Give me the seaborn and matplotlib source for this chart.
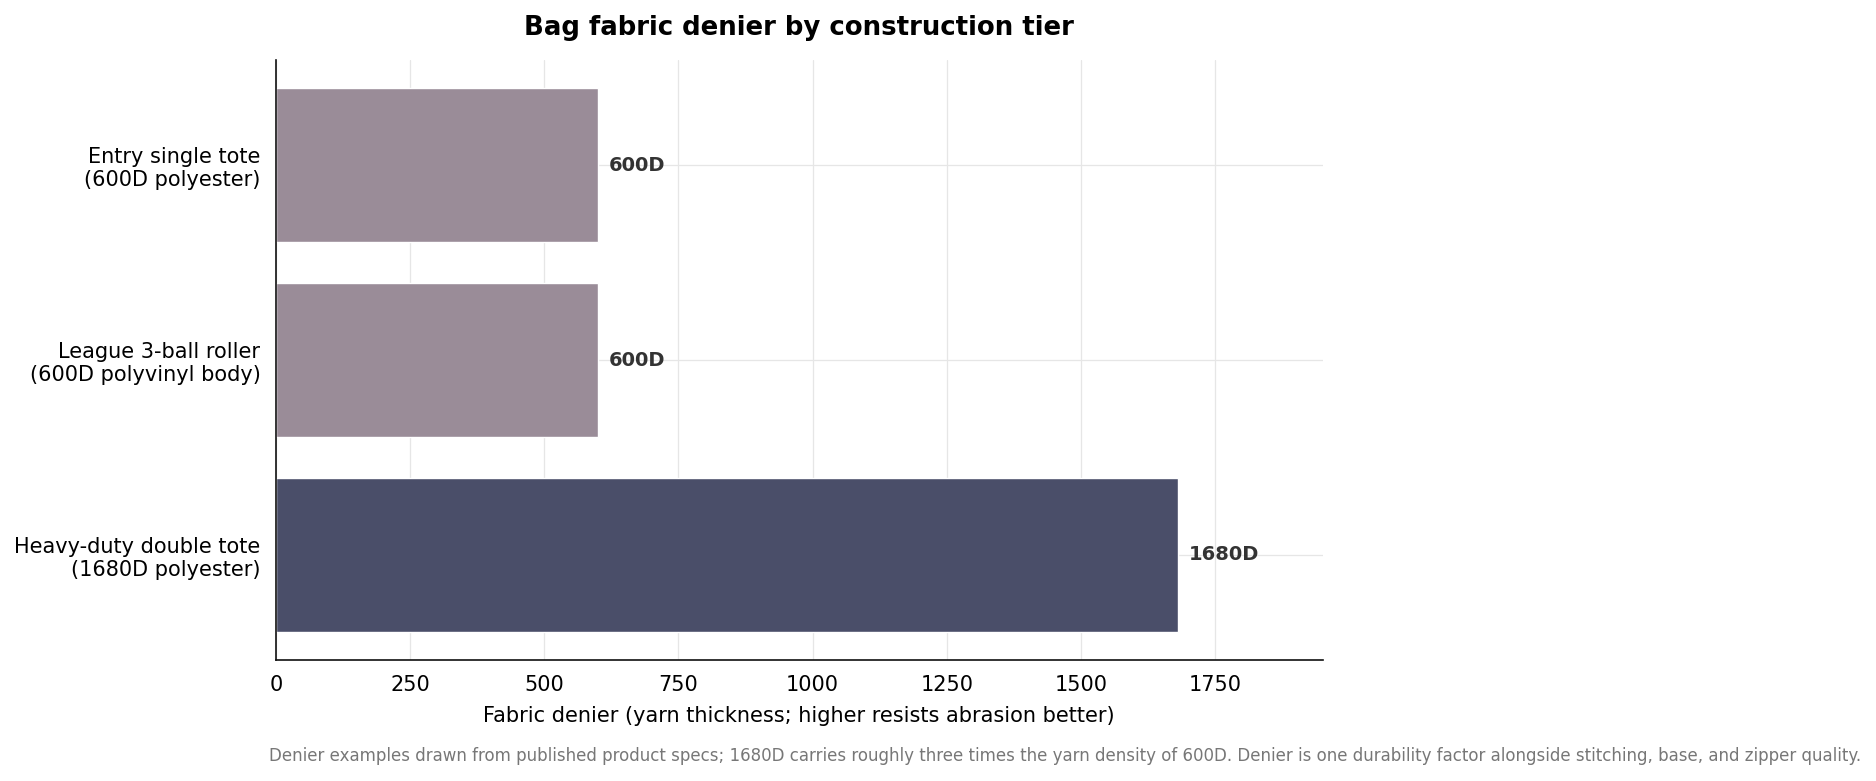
import numpy as np
import pandas as pd
import matplotlib
matplotlib.use("Agg")
import matplotlib.pyplot as plt
import seaborn as sns

# Data
tiers = ["Entry single tote\n(600D polyester)",
         "League 3-ball roller\n(600D polyvinyl body)",
         "Heavy-duty double tote\n(1680D polyester)"]
denier = [600, 600, 1680]
bar_colors = ["#9A8C98", "#9A8C98", "#4A4E69"]

df = pd.DataFrame({"tier": tiers, "denier": denier})

sns.set_theme(style="white")
plt.rcParams["font.family"] = ["DejaVu Sans"]
plt.rcParams["text.color"] = "black"
plt.rcParams["axes.labelcolor"] = "black"

fig = plt.figure(figsize=(18.76, 7.81), dpi=100)
ax = fig.add_axes([0.147, 0.155, 0.558, 0.768])

sns.barplot(data=df, x="denier", y="tier", hue="tier", palette=bar_colors,
            legend=False, width=0.79, ax=ax, saturation=1)

ax.set_xlim(0, 1950)
ax.set_ylim(2.54, -0.54)
ax.set_xticks([0, 250, 500, 750, 1000, 1250, 1500, 1750])
ax.grid(True, color="#e6e6e6", linewidth=0.9)
ax.set_axisbelow(True)
sns.despine(ax=ax)
for s in ["left", "bottom"]:
    ax.spines[s].set_color("#111111")
    ax.spines[s].set_linewidth(1.2)

ax.tick_params(axis="both", labelsize=15, colors="black", length=5, width=1, pad=6)
ax.set_ylabel("")
ax.set_xlabel("Fabric denier (yarn thickness; higher resists abrasion better)",
              fontsize=15, labelpad=8)

for i, v in enumerate(denier):
    ax.text(v + 21, i, f"{v}D", va="center", ha="left", fontsize=14,
            fontweight="bold", color="#333333")

ax.set_title("Bag fabric denier by construction tier", fontsize=18.7,
             fontweight="bold", pad=18, color="black")

fig.text(0.1435, 0.032,
         "Denier examples drawn from published product specs; 1680D carries roughly three times "
         "the yarn density of 600D. Denier is one durability factor alongside stitching, base, and zipper quality.",
         fontsize=12, color="#777777", ha="left", va="center")

fig.savefig("out.png", dpi=100)
